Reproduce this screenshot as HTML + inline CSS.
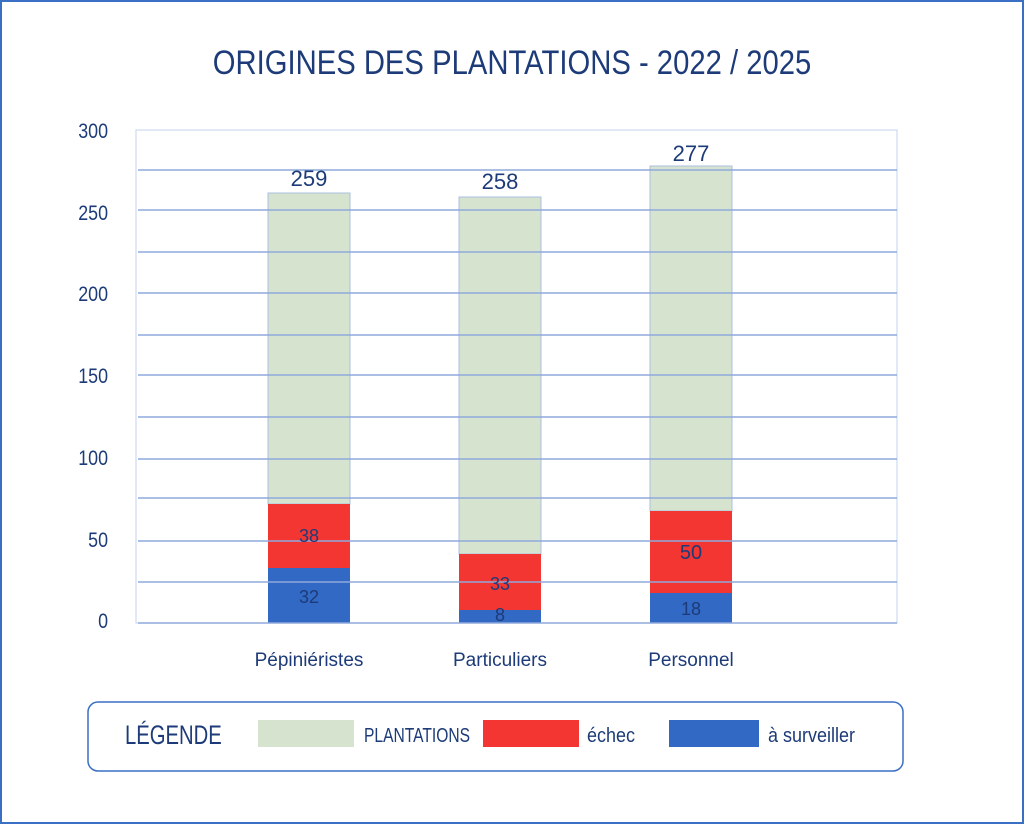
<!DOCTYPE html>
<html><head><meta charset="utf-8"><style>
body{margin:0;background:#fff}
.w{position:relative;width:1020px;height:820px;border:2px solid #3a6fc4;overflow:hidden;font-family:"Liberation Sans",sans-serif;color:#1c3b78}
.a{position:absolute}
.t{left:0;width:1020px;top:42px;text-align:center;font-size:34px;transform:scaleX(0.86)}
.y{width:40px;text-align:right;font-size:21px;left:66px;transform:scaleX(0.85);transform-origin:right}
.v{font-size:22px;text-align:center;width:82px}
.c{font-size:19px;text-align:center;width:160px;top:648px}
.l{transform:scaleX(0.78);transform-origin:left;white-space:nowrap}
</style></head><body><div class="w">
<div class="a t">ORIGINES DES PLANTATIONS - 2022 / 2025</div>
<svg class="a" style="left:0;top:0" width="1020" height="820">
<rect x="134" y="128" width="761" height="493" fill="none" stroke="#c5d3ec" stroke-width="1"/>
<g>
<rect x="266" y="191" width="82" height="311" fill="#d6e4cf" stroke="#a9bfe0"/>
<rect x="266" y="502" width="82" height="64" fill="#f43632"/>
<rect x="266" y="566" width="82" height="55" fill="#3169c4"/>
<rect x="457" y="195" width="82" height="357" fill="#d6e4cf" stroke="#a9bfe0"/>
<rect x="457" y="552" width="82" height="56" fill="#f43632"/>
<rect x="457" y="608" width="82" height="13" fill="#3169c4"/>
<rect x="648" y="164" width="82" height="345" fill="#d6e4cf" stroke="#a9bfe0"/>
<rect x="648" y="509" width="82" height="82" fill="#f43632"/>
<rect x="648" y="591" width="82" height="30" fill="#3169c4"/>
</g>
<g stroke="#8fa9dc" stroke-width="1.5">
<line x1="136" x2="895" y1="168" y2="168"/><line x1="136" x2="895" y1="208" y2="208"/>
<line x1="136" x2="895" y1="250" y2="250"/><line x1="136" x2="895" y1="291" y2="291"/>
<line x1="136" x2="895" y1="333" y2="333"/><line x1="136" x2="895" y1="373" y2="373"/>
<line x1="136" x2="895" y1="415" y2="415"/><line x1="136" x2="895" y1="457" y2="457"/>
<line x1="136" x2="895" y1="496" y2="496"/><line x1="136" x2="895" y1="539" y2="539"/>
<line x1="136" x2="895" y1="580" y2="580"/><line x1="136" x2="895" y1="621" y2="621"/>
</g>
<rect x="86" y="700" width="815" height="69" rx="10" fill="none" stroke="#3a6fc4" stroke-width="1.5"/>
<rect x="256" y="718" width="96" height="27" fill="#d6e4cf"/>
<rect x="481" y="718" width="96" height="27" fill="#f43632"/>
<rect x="667" y="718" width="90" height="27" fill="#3169c4"/>
</svg>
<div class="a y" style="top:118px">300</div>
<div class="a y" style="top:200px">250</div>
<div class="a y" style="top:281px">200</div>
<div class="a y" style="top:363px">150</div>
<div class="a y" style="top:445px">100</div>
<div class="a y" style="top:527px">50</div>
<div class="a y" style="top:608px">0</div>
<div class="a v" style="left:266px;top:164px">259</div>
<div class="a v" style="left:457px;top:167px">258</div>
<div class="a v" style="left:648px;top:139px">277</div>
<div class="a v" style="left:266px;top:524px;font-size:18px">38</div>
<div class="a v" style="left:266px;top:585px;font-size:18px">32</div>
<div class="a v" style="left:457px;top:572px;font-size:18px">33</div>
<div class="a v" style="left:457px;top:603px;font-size:18px">8</div>
<div class="a v" style="left:648px;top:540px;font-size:20px">50</div>
<div class="a v" style="left:648px;top:597px;font-size:18px">18</div>
<div class="a c" style="left:227px">Pépiniéristes</div>
<div class="a c" style="left:418px">Particuliers</div>
<div class="a c" style="left:609px">Personnel</div>
<div class="a l" style="left:123px;top:718px;font-size:27px;transform:scaleX(0.75)">LÉGENDE</div>
<div class="a l" style="left:362px;top:723px;font-size:20px">PLANTATIONS</div>
<div class="a l" style="left:585px;top:723px;font-size:20px;transform:scaleX(0.9)">échec</div>
<div class="a l" style="left:766px;top:723px;font-size:20px;transform:scaleX(0.9)">à surveiller</div>
</div></body></html>
